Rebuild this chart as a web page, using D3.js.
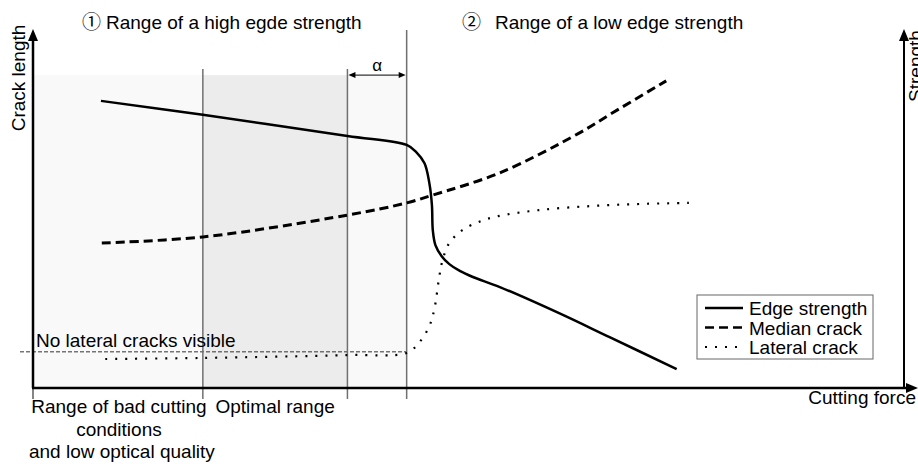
<!DOCTYPE html>
<html>
<head>
<meta charset="utf-8">
<script src="https://cdn.jsdelivr.net/npm/d3@7"></script>
<style>
  body { margin: 0; background: #fff; }
  svg text { font-family: "Liberation Sans", Arial, Helvetica, sans-serif; font-size: 19px; fill: #000; }
</style>
</head>
<body>
<svg id="chart" width="918" height="464"></svg>
<script>
// Relative units: cutting force on x (0–100), crack length / strength on y (0–100)
const edgeStrength = [
  [7.8, 80.2], [19.5, 76.3], [36.1, 70.4], [42.9, 67.9], [44.0, 65.9], [44.95, 62.8],
  [45.5, 57.3], [45.8, 51.1], [45.9, 44.1], [46.2, 39.9], [46.9, 36.9], [47.8, 34.6],
  [49.0, 32.7], [50.5, 31.0], [53.6, 28.2], [60.4, 20.9], [66.2, 14.2], [73.9, 5.3]
];
const medianCrack = [
  [7.9, 40.5], [19.5, 42.2], [36.1, 48.3], [42.9, 51.7], [45.9, 53.9],
  [53.6, 60.1], [62.7, 71.2], [66.5, 76.8], [72.7, 85.8]
];
const lateralCrack = [
  [8.3, 8.1], [19.5, 8.4], [36.1, 9.2], [42.9, 9.8], [44.3, 12.6], [45.5, 17.3],
  [46.1, 22.3], [46.6, 30.4], [47.0, 35.5], [47.8, 40.5], [49.3, 44.1], [51.4, 46.6],
  [53.4, 48.0], [58.1, 49.7], [63.9, 50.8], [69.6, 51.4], [75.3, 51.7]
];
const noLateralLevel = 10.1;          // visibility threshold of lateral cracks
const boundaries = [19.5, 36.1, 42.9]; // bad / optimal / alpha / low-strength limits
const zoneTop = 87.4;

const seriesNames = ["Edge strength", "Median crack", "Lateral crack"];
const titles = [["\u2460", "Range of a high egde strength"], ["\u2461", "Range of a low edge strength"]];
const bottomLabels = [["Range of bad cutting", "conditions", "and low optical quality"], ["Optimal range"]];
const axisLabels = { x: "Cutting force", yLeft: "Crack length", yRight: "Strength" };
const noLateralText = "No lateral cracks visible";
const alphaText = "\u03b1";

const svg = d3.select("#chart");
const x = d3.scaleLinear().domain([0, 100]).range([33, 904]);
const y = d3.scaleLinear().domain([0, 100]).range([388, 30]);

const styles = {
  "Edge strength": { width: 2.5, dash: null },
  "Median crack": { width: 3, dash: "9 5" },
  "Lateral crack": { width: 2.2, dash: "2 8" }
};

// shaded zones
svg.append("rect")
  .attr("x", x(0)).attr("y", y(zoneTop))
  .attr("width", x(boundaries[2]) - x(0)).attr("height", y(0) - y(zoneTop))
  .attr("fill", "#f9f9f9");
svg.append("rect")
  .attr("x", x(boundaries[0])).attr("y", y(zoneTop))
  .attr("width", x(boundaries[1]) - x(boundaries[0])).attr("height", y(0) - y(zoneTop))
  .attr("fill", "#ececec");

// threshold line for visible lateral cracks
svg.append("line")
  .attr("x1", 20).attr("x2", x(boundaries[2]))
  .attr("y1", y(noLateralLevel)).attr("y2", y(noLateralLevel))
  .attr("stroke", "#333").attr("stroke-width", 1).attr("stroke-dasharray", "4 2");

// zone boundaries
const bTops = [zoneTop + 1.7, zoneTop + 1.7, 100];
svg.selectAll("line.bound").data(boundaries).join("line")
  .attr("class", "bound")
  .attr("x1", d => x(d)).attr("x2", d => x(d))
  .attr("y1", (d, i) => y(bTops[i])).attr("y2", y(0) + 11)
  .attr("stroke", "#707070").attr("stroke-width", 1.5);

// alpha span arrow
const aY = y(zoneTop);
const ax1 = x(boundaries[1]) + 1, ax2 = x(boundaries[2]) - 1;
svg.append("line").attr("x1", ax1 + 5).attr("x2", ax2 - 5).attr("y1", aY).attr("y2", aY)
  .attr("stroke", "#000").attr("stroke-width", 1);
svg.append("path").attr("d", `M${ax1},${aY}L${ax1 + 7},${aY - 3}L${ax1 + 7},${aY + 3}Z`).attr("fill", "#000");
svg.append("path").attr("d", `M${ax2},${aY}L${ax2 - 7},${aY - 3}L${ax2 - 7},${aY + 3}Z`).attr("fill", "#000");
svg.append("text").attr("x", (ax1 + ax2) / 2).attr("y", aY - 4)
  .attr("text-anchor", "middle").style("font-size", "17px").text(alphaText);

// curves
const line = d3.line().x(d => x(d[0])).y(d => y(d[1])).curve(d3.curveCatmullRom.alpha(0.5));
[edgeStrength, medianCrack, lateralCrack].forEach((data, i) => {
  const s = styles[seriesNames[i]];
  svg.append("path").datum(data)
    .attr("d", line)
    .attr("fill", "none").attr("stroke", "#000")
    .attr("stroke-width", s.width)
    .attr("stroke-dasharray", s.dash);
});

// axes
const x0 = x(0), y0 = y(0);
svg.append("line").attr("x1", x0).attr("x2", x0).attr("y1", y0).attr("y2", y(100) + 8)
  .attr("stroke", "#000").attr("stroke-width", 2.5);
svg.append("line").attr("x1", x0).attr("x2", x0).attr("y1", y0).attr("y2", y0 + 11)
  .attr("stroke", "#333").attr("stroke-width", 1.2);
svg.append("path").attr("d", `M${x0},${y(100) - 1}L${x0 - 5},${y(100) + 11}L${x0 + 5},${y(100) + 11}Z`).attr("fill", "#000");

const xr = x(100);
svg.append("line").attr("x1", xr).attr("x2", xr).attr("y1", y0).attr("y2", y(100) + 8)
  .attr("stroke", "#000").attr("stroke-width", 2);
svg.append("path").attr("d", `M${xr},${y(100) - 1}L${xr - 5},${y(100) + 11}L${xr + 5},${y(100) + 11}Z`).attr("fill", "#000");

svg.append("line").attr("x1", x0 - 1).attr("x2", 908).attr("y1", y0).attr("y2", y0)
  .attr("stroke", "#000").attr("stroke-width", 2.5);
svg.append("path").attr("d", `M918,${y0}L906,${y0 - 5}L906,${y0 + 5}Z`).attr("fill", "#000");

// axis labels
svg.append("text").attr("transform", `translate(25,${y(100) + 48}) rotate(-90)`)
  .attr("text-anchor", "middle").text(axisLabels.yLeft);
svg.append("text").attr("transform", `translate(922,${y(100) + 36}) rotate(-90)`)
  .attr("text-anchor", "middle").text(axisLabels.yRight);
svg.append("text").attr("x", 916).attr("y", 404).attr("text-anchor", "end").text(axisLabels.x);

// range titles
const titleX = [[82, 106], [462, 495]];
titles.forEach((t, i) => {
  const tx = svg.append("text").attr("y", 29);
  tx.append("tspan").attr("x", titleX[i][0])
    .style("font-family", "'Noto Sans CJK JP', 'DejaVu Sans', sans-serif").text(t[0]);
  tx.append("tspan").attr("x", titleX[i][1]).text(t[1]);
});

// zone labels under the axis
const labelCx = [(x0 + x(boundaries[0])) / 2 + 1, (x(boundaries[0]) + x(boundaries[1])) / 2];
bottomLabels.forEach((rows, i) => {
  rows.forEach((r, j) => {
    svg.append("text").attr("x", labelCx[i] + (j === 2 ? 3 : 0)).attr("y", 413 + j * 22.5)
      .attr("text-anchor", "middle").text(r);
  });
});

svg.append("text").attr("x", 36).attr("y", 347).text(noLateralText);

// legend
const lg = svg.append("g").attr("transform", "translate(697,295)");
lg.append("rect").attr("width", 176).attr("height", 64)
  .attr("fill", "#fff").attr("stroke", "#666").attr("stroke-width", 1);
seriesNames.forEach((n, i) => {
  const s = styles[n];
  const ly = 13 + i * 19.5;
  lg.append("line").attr("x1", 8).attr("x2", 46).attr("y1", ly).attr("y2", ly)
    .attr("stroke", "#000").attr("stroke-width", Math.min(s.width, 2.5))
    .attr("stroke-dasharray", s.dash);
  lg.append("text").attr("x", 52).attr("y", ly + 7).text(n);
});
</script>
</body>
</html>
